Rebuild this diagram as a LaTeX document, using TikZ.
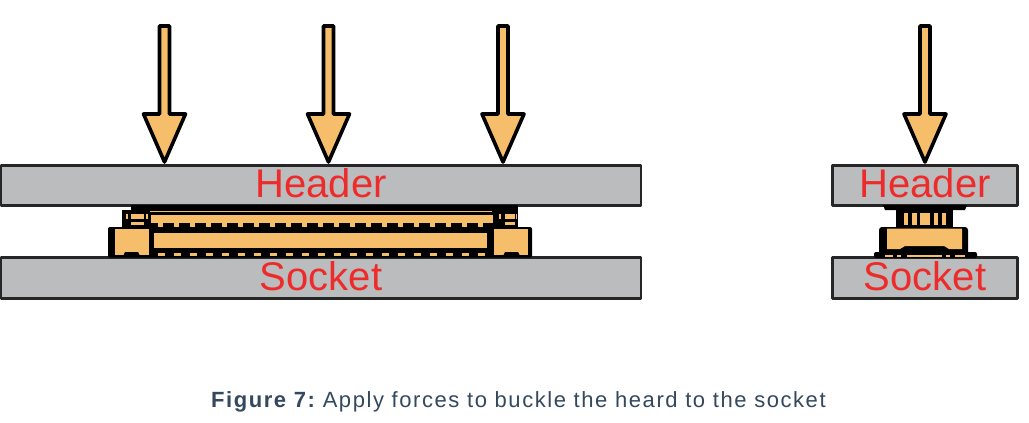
\documentclass[tikz,border=0pt]{standalone}
\usepackage{fontspec}
\setmainfont{Liberation Sans}
\newfontfamily\capfont[LetterSpace=7.1]{Liberation Sans}
\definecolor{barfill}{HTML}{BBBCBD}
\definecolor{forceorange}{HTML}{F6BD6B}
\definecolor{labelred}{HTML}{EE2B2B}
\definecolor{captext}{HTML}{34495E}
\begin{document}
\begin{tikzpicture}[x=1pt, y=-1pt, line join=round,
  bar/.style={draw=black!85, line width=2.8pt, fill=barfill, minimum height=40.5pt, inner sep=0pt,
    text=labelred, text depth=4pt, font=\fontsize{40}{40}\selectfont},
  force/.style={draw=black, line width=3.6pt, fill=forceorange},
  orange/.style={fill=forceorange},
  solid/.style={fill=black}]
\useasboundingbox (0,0) rectangle (1029,423);
\fill[white] (0,0) rectangle (1029,423);
\node[bar, minimum width=640pt] (headerL) at (321,185.5) {Header};
\node[bar, minimum width=640pt] (socketL) at (321,278) {Socket};
\node[bar, minimum width=185pt] (headerR) at (925,185.5) {Header};
\node[bar, minimum width=185pt] (socketR) at (925,278) {Socket};
\foreach \x in {164.5,328.5,503,925}
  \draw[force] (\x-5,26) -- (\x+5,26) -- (\x+5,114) -- (\x+21,114) -- (\x,162) -- (\x-21,114) -- (\x-5,114) -- cycle;
% long connector
\fill[solid] (131,205) rectangle (508,212);
\fill[solid] (122,210) rectangle (153,228);
\fill[solid] (492,205) rectangle (518,228);
\fill[solid] (150,205) rectangle (496,228);
\fill[solid, rounded corners=2pt] (108,227) rectangle (532,257.5);
\fill[orange] (150,210.5) rectangle (492,212);
\fill[orange] (151,215) rectangle (493,223);
\foreach \x in {158,174,...,478}
  \fill[orange] (\x,222.5) rectangle (\x+4.5,227);
\fill[orange] (153.5,233) rectangle (487,248);
\foreach \x in {158,174,...,480}
  \fill[orange] (\x,252.5) rectangle (\x+7,256);
\fill[orange] (115,229) rectangle (149,255);
\fill[orange] (494,229) rectangle (528,255);
\fill[solid] (123,256) -- (125,252) -- (138,252) -- (140,256) -- cycle;
\fill[solid] (503,256) -- (505,252) -- (518,252) -- (520,256) -- cycle;
\foreach \x/\w in {126/2,131/13,146/2,499/2,505/10,516/1}
  \fill[orange] (\x,214) rectangle (\x+\w,219);
\foreach \x/\w in {131/13,505/10}
  \fill[orange] (\x,222) rectangle (\x+\w,225);
% short connector
\fill[solid] (883,205) -- (967,205) -- (965,210) -- (885,210) -- cycle;
\fill[solid] (896,210) rectangle (953,228);
\fill[solid, rounded corners=3pt] (879,227) rectangle (968,256);
\fill[solid, rounded corners=2pt] (874,252) rectangle (977,258);
\foreach \x/\w in {904/4,912/5,920/10,934/4,942/4}
  \fill[orange] (\x,213) rectangle (\x+\w,225);
\fill[orange] (887,228.5) -- (962,228.5) -- (962,249) -- (949,249) -- (944,246) -- (905,246) -- (900,249) -- (887,249) -- cycle;
\foreach \x/\w in {885/8,897/4,907/35,946/4,955/10}
  \fill[orange] (\x,254.5) rectangle (\x+\w,256.5);
\node[text=captext, anchor=base west, inner sep=0pt, font=\fontsize{22}{22}\selectfont\capfont] (caption) at (211,407) {\textbf{Figure 7:}\hspace*{-1.5pt} Apply forces to buckle the heard to the socket};
\end{tikzpicture}
\end{document}
